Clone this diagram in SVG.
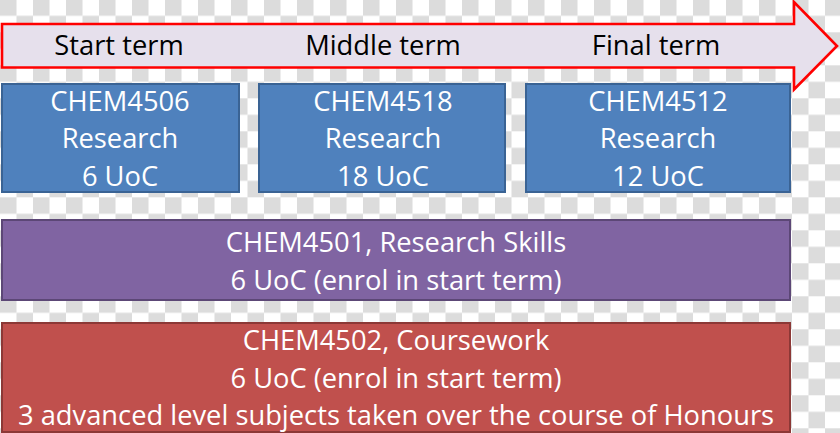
<svg xmlns="http://www.w3.org/2000/svg" width="840" height="433" viewBox="0 0 840 433">
<defs>
<pattern id="checker" patternUnits="userSpaceOnUse" x="0" y="-0.7" width="33" height="33">
<rect x="0" y="0" width="33" height="33" fill="#ffffff"/>
<rect x="0" y="0" width="16.5" height="16.5" fill="#dcdcdc"/>
<rect x="16.5" y="16.5" width="16.5" height="16.5" fill="#dcdcdc"/>
</pattern>
<style>
.lbl{font-family:"Open Sans","Liberation Sans",sans-serif;font-size:27.3px;text-anchor:middle}
.dark{fill:#000000}
.light{fill:#ffffff}
.blue{fill:#4f81bd;stroke:#3a6394;stroke-width:2}
.purple{fill:#8064a2;stroke:#5c4776;stroke-width:2}
.red{fill:#c0504d;stroke:#8c3836;stroke-width:2}
</style>
</defs>
<rect x="0" y="0" width="840" height="433" fill="url(#checker)"/>
<g id="timeline">
<path d="M2,24 L794,24 L794,2 L837,46 L794,89.5 L794,67.5 L2,67.5 Z" fill="#e6e0ec" stroke="#ff0000" stroke-width="2.6" stroke-linejoin="miter"/>
<text class="lbl dark" x="119" y="55">Start term</text>
<text class="lbl dark" x="383" y="55">Middle term</text>
<text class="lbl dark" x="656" y="55">Final term</text>
</g>
<g id="chem4506">
<rect class="blue" x="2" y="84" width="237" height="108"/>
<text class="lbl light" x="120" y="111">CHEM4506</text>
<text class="lbl light" x="120" y="148">Research</text>
<text class="lbl light" x="120" y="186">6 UoC</text>
</g>
<g id="chem4518">
<rect class="blue" x="259" y="84" width="246" height="108"/>
<text class="lbl light" x="383" y="111">CHEM4518</text>
<text class="lbl light" x="383" y="148">Research</text>
<text class="lbl light" x="383" y="186">18 UoC</text>
</g>
<g id="chem4512">
<rect class="blue" x="526" y="84" width="264" height="108"/>
<text class="lbl light" x="658" y="111">CHEM4512</text>
<text class="lbl light" x="658" y="148">Research</text>
<text class="lbl light" x="658" y="186">12 UoC</text>
</g>
<g id="chem4501">
<rect class="purple" x="2" y="220" width="788" height="80"/>
<text class="lbl light" x="396" y="252">CHEM4501, Research Skills</text>
<text class="lbl light" x="396" y="290">6 UoC (enrol in start term)</text>
</g>
<g id="chem4502">
<rect class="red" x="2" y="323" width="788" height="109"/>
<text class="lbl light" x="396" y="350">CHEM4502, Coursework</text>
<text class="lbl light" x="396" y="388">6 UoC (enrol in start term)</text>
<text class="lbl light" x="396" y="425">3 advanced level subjects taken over the course of Honours</text>
</g>
<g id="connectors"></g>
</svg>
